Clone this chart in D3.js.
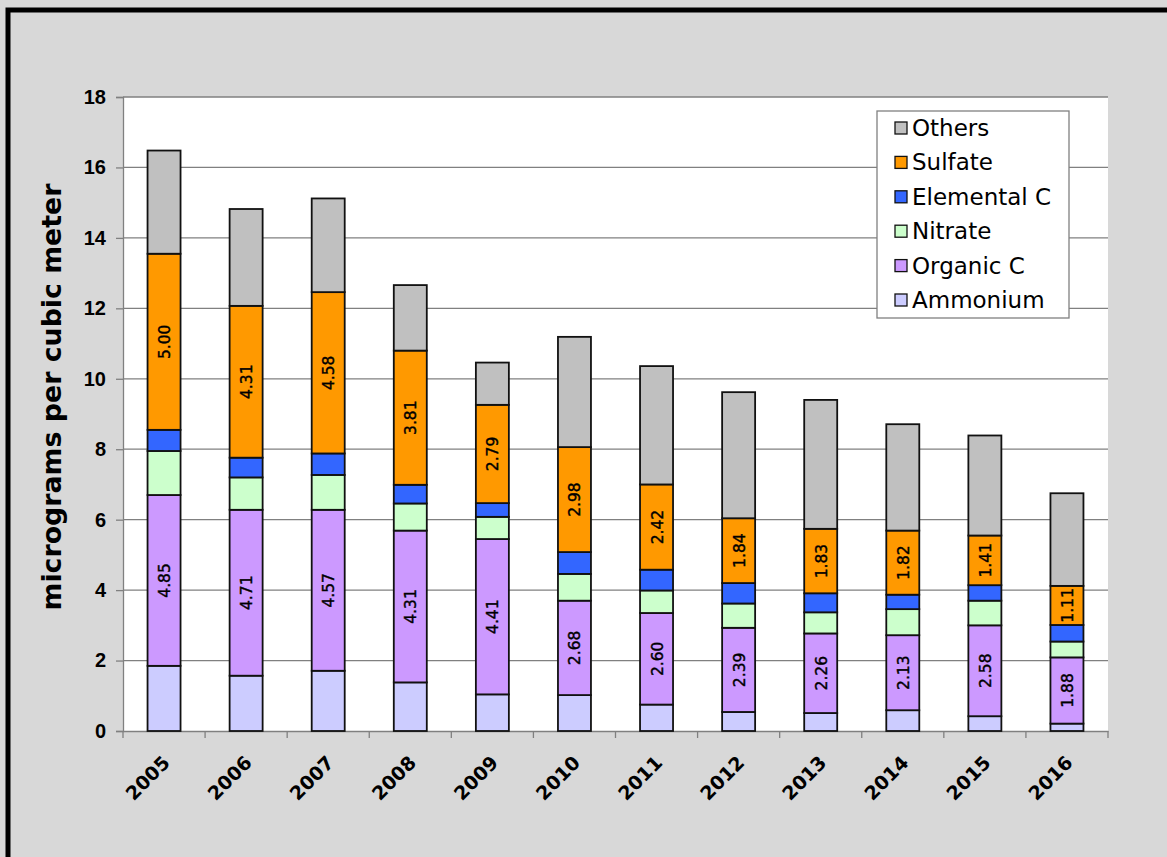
<!DOCTYPE html>
<html><head><meta charset="utf-8">
<script src="https://cdn.jsdelivr.net/npm/d3@7"></script>
<style>
html,body{margin:0;padding:0;background:#d9d9d9;}
svg{display:block;}
</style></head>
<body>
<svg id="chart" width="1167" height="857"></svg>
<script>
const years = ["2005","2006","2007","2008","2009","2010","2011","2012","2013","2014","2015","2016"];
const ammonium   = [1.85,1.57,1.71,1.38,1.04,1.02,0.75,0.54,0.51,0.59,0.42,0.21];
const organicC   = [4.85,4.71,4.57,4.31,4.41,2.68,2.60,2.39,2.26,2.13,2.58,1.88];
const nitrate    = [1.25,0.92,0.99,0.77,0.63,0.76,0.64,0.69,0.60,0.74,0.70,0.45];
const elementalC = [0.60,0.56,0.61,0.53,0.39,0.62,0.59,0.58,0.54,0.41,0.44,0.47];
const sulfate    = [5.00,4.31,4.58,3.81,2.79,2.98,2.42,1.84,1.83,1.82,1.41,1.11];
const others     = [2.93,2.75,2.66,1.86,1.20,3.13,3.36,3.58,3.66,3.02,2.84,2.63];
const seriesNames = ["Ammonium","Organic C","Nitrate","Elemental C","Sulfate","Others"];
const seriesColors = ["#ccccff","#cc99ff","#ccffcc","#3366ff","#ff9900","#c0c0c0"];
const labelledSeries = ["Organic C","Sulfate"];
const yTicks = [0,2,4,6,8,10,12,14,16,18];
const yTitle = "micrograms per cubic meter";

const seriesValues = [ammonium, organicC, nitrate, elementalC, sulfate, others];
const table = years.map((y,i)=>{
  const row = {year:y};
  seriesNames.forEach((n,k)=>row[n]=seriesValues[k][i]);
  return row;
});
const stacked = d3.stack().keys(seriesNames)(table);

const svg = d3.select("#chart");
const W = 1167, H = 857;
const m = {left:123, right:59, top:97, bottom:126};
const xb = d3.scaleBand().domain(years).range([m.left, W-m.right]);
const y = d3.scaleLinear().domain([0,18]).range([H-m.bottom, m.top]);
const color = d3.scaleOrdinal().domain(seriesNames).range(seriesColors);

// background & frame
svg.append("rect").attr("x",0).attr("y",0).attr("width",W).attr("height",H).attr("fill","#d9d9d9");
svg.append("rect").attr("x",8).attr("y",10).attr("width",W+20).attr("height",H+20)
  .attr("fill","#d8d8d8").attr("stroke","#000").attr("stroke-width",5);

// plot area
svg.append("rect").attr("x",m.left).attr("y",m.top).attr("width",W-m.right-m.left).attr("height",H-m.bottom-m.top).attr("fill","#fff");

// grid
svg.append("g").selectAll("line").data(yTicks.filter(d=>d>0)).join("line")
  .attr("x1",m.left).attr("x2",W-m.right).attr("y1",d=>y(d)).attr("y2",d=>y(d))
  .attr("stroke","#808080").attr("stroke-width",1.3);

// y axis
const yAxis = svg.append("g").attr("transform",`translate(${m.left},0)`)
  .call(d3.axisLeft(y).tickValues(yTicks).tickSize(7).tickPadding(10));
yAxis.select(".domain").attr("stroke","#808080").attr("stroke-width",1.3);
yAxis.selectAll(".tick line").attr("stroke","#808080").attr("stroke-width",1.3);
yAxis.selectAll("text").attr("font-family","Liberation Sans, Arial, sans-serif").attr("font-weight","bold")
  .attr("font-size",20).attr("fill","#000");

// x axis
const xAxis = svg.append("g").attr("transform",`translate(0,${H-m.bottom})`)
  .call(d3.axisBottom(xb).tickSize(0).tickFormat(""));
xAxis.select(".domain").attr("stroke","#808080").attr("stroke-width",1.3);
svg.append("g").selectAll("line").data(years.concat(["end"])).join("line")
  .attr("x1",(d,i)=> i<years.length ? xb(d) : xb(years[years.length-1])+xb.bandwidth())
  .attr("x2",(d,i)=> i<years.length ? xb(d) : xb(years[years.length-1])+xb.bandwidth())
  .attr("y1",H-m.bottom).attr("y2",H-m.bottom+7).attr("stroke","#808080").attr("stroke-width",1.3);

svg.append("g").selectAll("text").data(years).join("text")
  .attr("transform",d=>`translate(${xb(d)+xb.bandwidth()/2+7},${H-m.bottom+33}) rotate(-45)`)
  .attr("text-anchor","end")
  .attr("font-family","DejaVu Sans, sans-serif").attr("font-weight","bold").attr("font-size",19)
  .text(d=>d);

// bars
const bw = 33;
const layers = svg.append("g").selectAll("g").data(stacked).join("g").attr("fill",d=>color(d.key));
layers.selectAll("rect").data(d=>d).join("rect")
  .attr("x",d=>xb(d.data.year)+xb.bandwidth()/2-bw/2)
  .attr("width",bw)
  .attr("y",d=>y(d[1])).attr("height",d=>y(d[0])-y(d[1]))
  .attr("stroke","#111").attr("stroke-width",1.8);

// labels
stacked.filter(s=>labelledSeries.includes(s.key)).forEach(s=>{
  svg.append("g").selectAll("text").data(s).join("text")
    .attr("transform",d=>`translate(${xb(d.data.year)+xb.bandwidth()/2+6},${(y(d[0])+y(d[1]))/2}) rotate(-90)`)
    .attr("text-anchor","middle")
    .attr("font-family","DejaVu Sans, sans-serif").attr("font-size",15.5).attr("fill","#000")
    .attr("stroke","#000").attr("stroke-width",0.4)
    .text(d=>(d[1]-d[0]).toFixed(2));
});

// y title
svg.append("text").attr("transform",`translate(61,397) rotate(-90)`)
  .attr("text-anchor","middle").attr("font-family","DejaVu Sans, sans-serif").attr("font-weight","bold")
  .attr("font-size",27).attr("textLength",427).attr("lengthAdjust","spacingAndGlyphs").text(yTitle);

// legend
const lg = svg.append("g").attr("transform","translate(877,111)");
lg.append("rect").attr("width",192).attr("height",207).attr("fill","#fff").attr("stroke","#808080").attr("stroke-width",1.3);
const legendOrder = seriesNames.slice().reverse();
const li = lg.selectAll("g").data(legendOrder).join("g").attr("transform",(d,i)=>`translate(18,${17+i*34.4})`);
li.append("rect").attr("x",0).attr("y",-6).attr("width",12).attr("height",12).attr("fill",d=>color(d)).attr("stroke","#111").attr("stroke-width",1.3);
li.append("text").attr("x",17).attr("y",8).attr("font-family","DejaVu Sans, sans-serif").attr("font-size",23).text(d=>d);
</script>
</body></html>
